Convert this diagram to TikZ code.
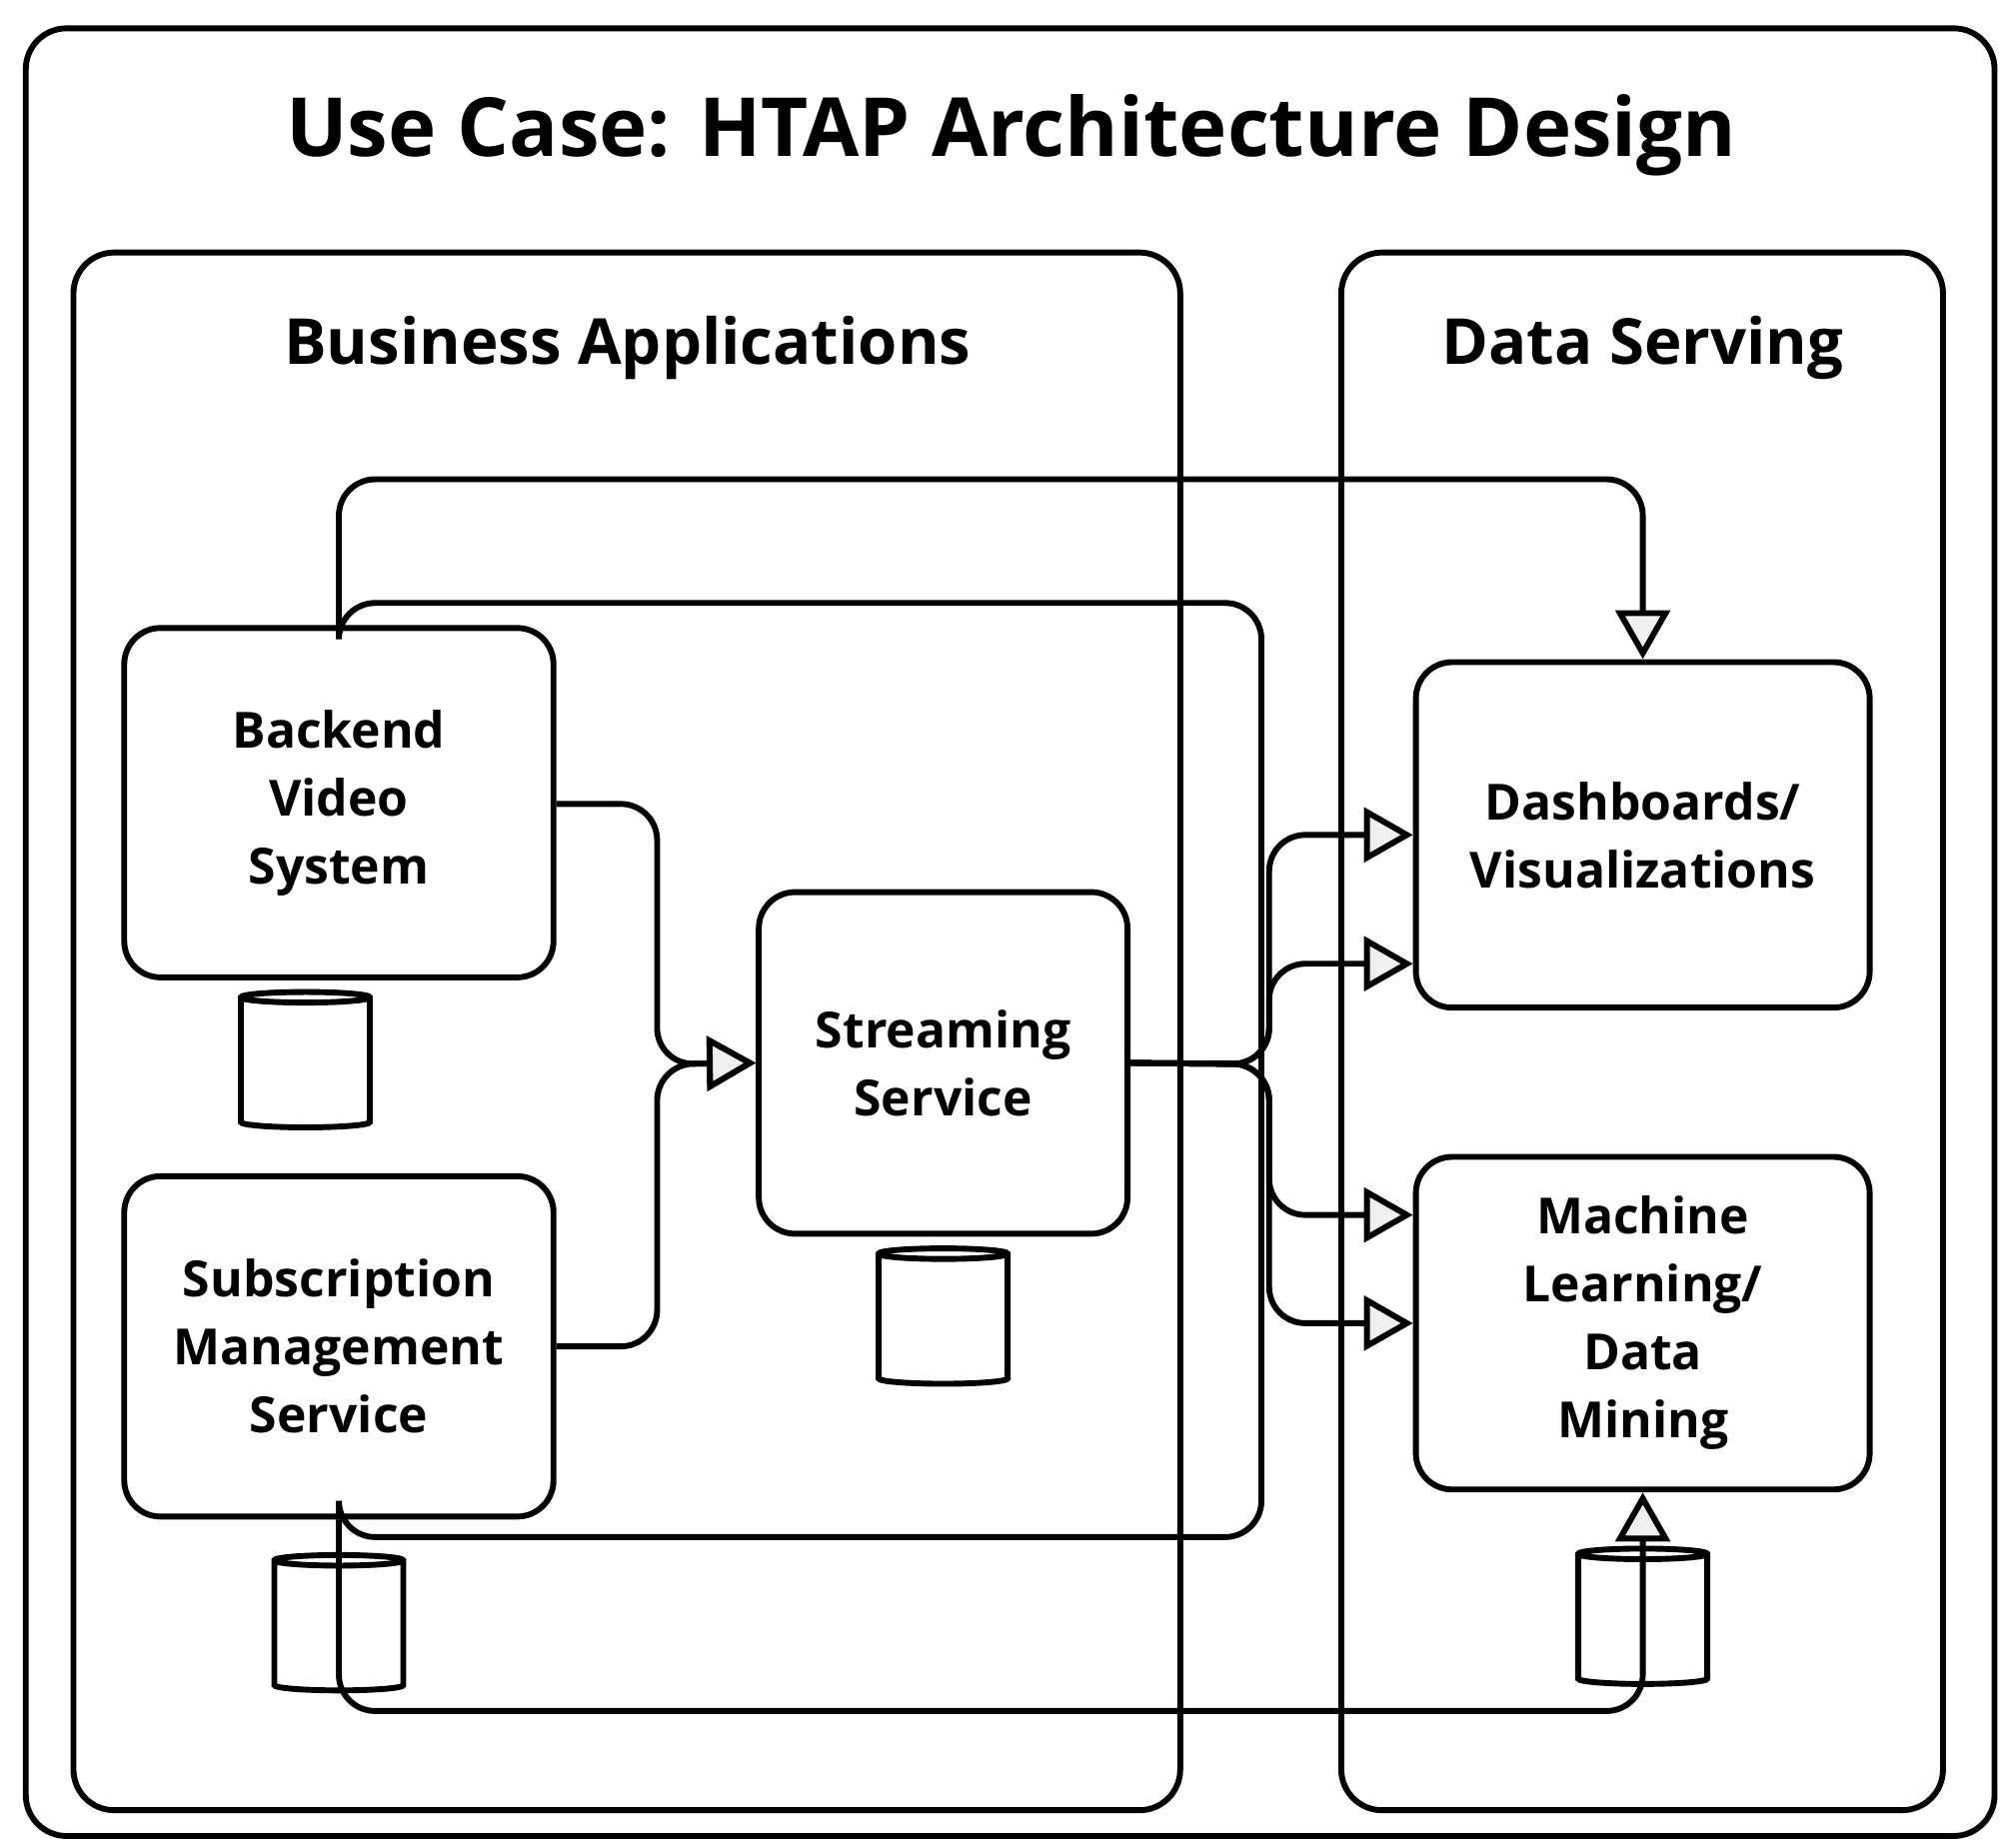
\documentclass[tikz,border=0pt]{standalone}
\usepackage{fontspec}
\setmainfont{Open Sans}
\usetikzlibrary{arrows.meta,shapes.geometric,positioning}

\begin{document}
\begin{tikzpicture}[x=0.01cm,y=-0.01cm,line width=1.3pt,
        bloque/.style={draw,rounded corners=8pt,align=center,font=\bfseries\fontsize{11}{15}\selectfont},
        grupo/.style={draw,rounded corners=9pt},
        disco/.style={draw,cylinder,shape border rotate=90,aspect=0.35,minimum width=1.0cm,minimum height=1.05cm},
        flecha/.style={rounded corners=8pt,-{Triangle[fill=gray!12,length=0.38cm,width=0.42cm]}},
        linea/.style={rounded corners=8pt}]
      \useasboundingbox (0,0) rectangle (1560,1434);
      \draw[grupo] (20,22) rectangle (1548,1425);
      \node[font=\bfseries\fontsize{18}{22}\selectfont] (titulo) at (785,105) {Use Case: HTAP Architecture Design};
      \draw[grupo] (57,196) rectangle (916,1405);
      \draw[grupo] (1041,196) rectangle (1508,1405);
      \node[font=\bfseries\fontsize{14}{17}\selectfont] (negocio) at (487,270) {Business Applications};
      \node[font=\bfseries\fontsize{14}{17}\selectfont] (datos) at (1275,270) {Data Serving};
      % nodos
      \node[bloque,minimum width=3.33cm,minimum height=2.71cm] (video) at (263,623) {Backend\\Video\\System};
      \node[bloque,minimum width=3.33cm,minimum height=2.64cm] (suscr) at (263,1045) {Subscription\\Management\\Service};
      \node[bloque,minimum width=2.86cm,minimum height=2.65cm] (stream) at (732,825) {Streaming\\Service};
      \node[bloque,minimum width=3.52cm,minimum height=2.68cm] (dash) at (1275,648) {Dashboards/\\Visualizations};
      \node[bloque,minimum width=3.52cm,minimum height=2.58cm] (ml) at (1275,1027) {Machine\\Learning/\\Data\\Mining};
      \node[disco] (db1) at (237,827) {};
      \node[disco] (db2) at (263,1264) {};
      \node[disco] (db3) at (732,1026) {};
      \node[disco] (db4) at (1275,1259) {};
      % conexiones
      \draw[flecha] (video.east |- 0,624) -- (510,624) -- (510,826) -- (stream.west);
      \draw[flecha] (suscr.east) -- (510,1045) -- (510,826) -- (stream.west);
      \draw[flecha] (video.north) -- (263,372) -- (1275,372) -- (dash.north);
      \draw[linea] (video.north) -- (263,468) -- (979,468) -- (979,826);
      \draw[linea] (suscr.south) -- (263,1193) -- (979,1193) -- (979,826);
      \draw[flecha] (suscr.south) -- (263,1328) -- (1275,1328) -- (ml.south);
      \draw[flecha] (stream.east) -- (985,826) -- (985,648) -- (dash.west |- 0,648);
      \draw[flecha] (stream.east) -- (985,826) -- (985,748) -- (dash.west |- 0,748);
      \draw[flecha] (stream.east) -- (985,826) -- (985,943) -- (ml.west |- 0,943);
      \draw[flecha] (stream.east) -- (985,826) -- (985,1027) -- (ml.west);
    \end{tikzpicture}
\end{document}
